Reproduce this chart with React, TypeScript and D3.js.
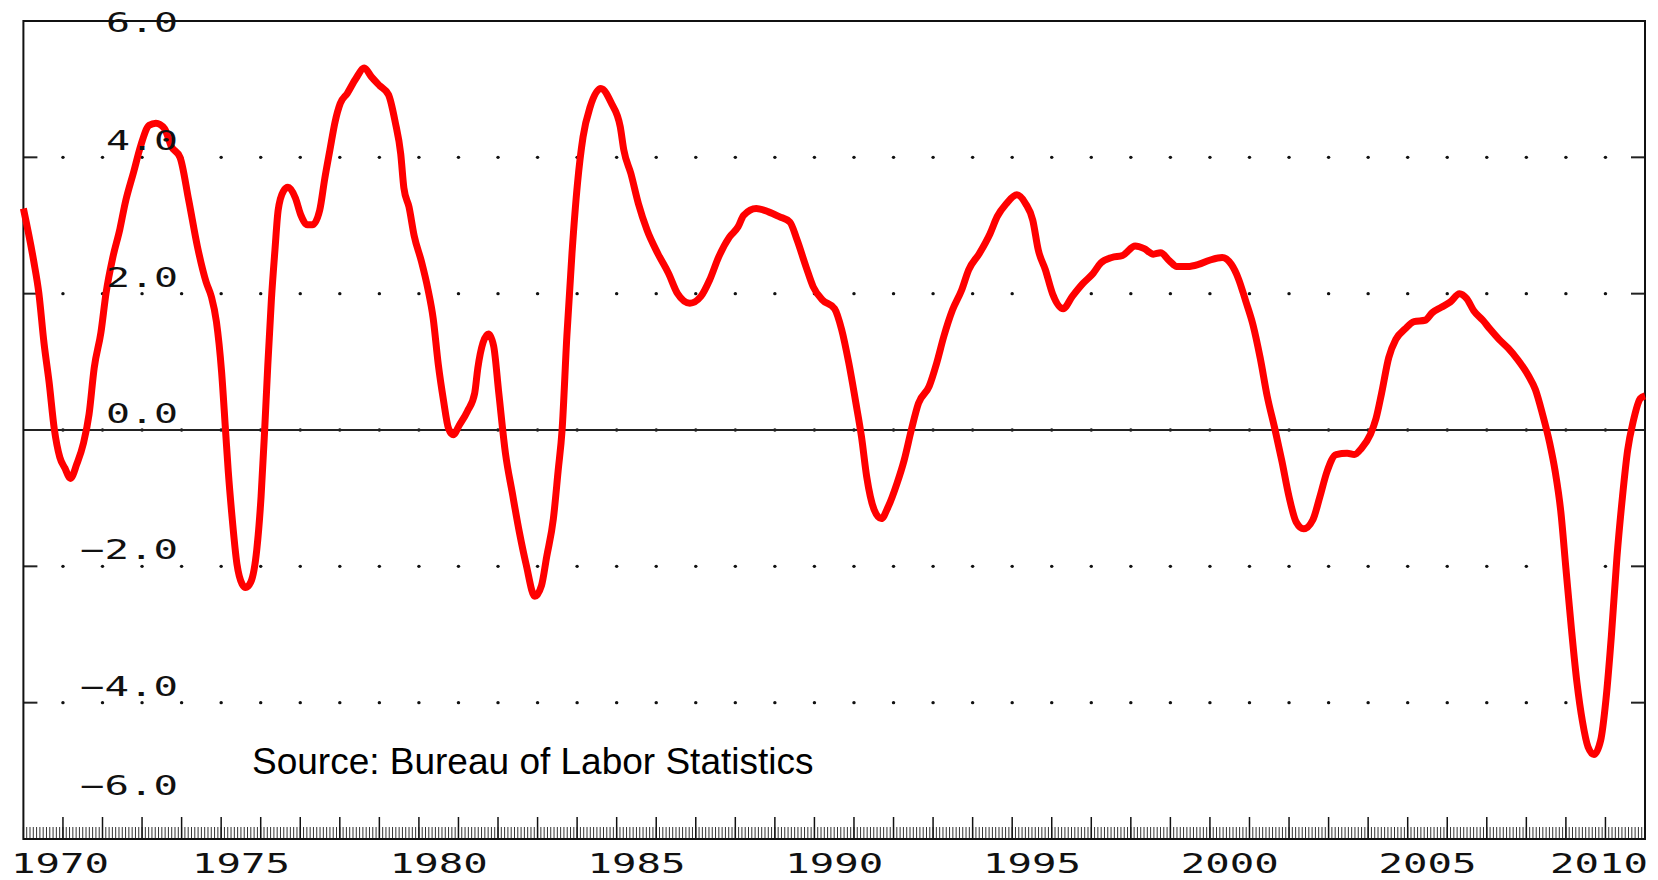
import React, { useRef, useEffect } from "react";
import * as d3 from "d3";

// payroll employment, % change from a year earlier
const dates = [
  1970.0, 1970.26, 1970.39, 1970.52, 1970.65, 1970.78, 1970.92, 1971.05, 1971.19, 1971.35,
  1971.52, 1971.66, 1971.79, 1971.96, 1972.09, 1972.26, 1972.44, 1972.57, 1972.79, 1972.96,
  1973.18, 1973.35, 1973.57, 1973.74, 1973.96, 1974.18, 1974.4, 1974.62, 1974.75, 1974.88,
  1975.01, 1975.11, 1975.18, 1975.27, 1975.4, 1975.53, 1975.62, 1975.75, 1975.9, 1976.01,
  1976.1, 1976.18, 1976.27, 1976.36, 1976.44, 1976.57, 1976.69, 1976.88, 1977.01, 1977.18,
  1977.31, 1977.49, 1977.62, 1977.75, 1977.88, 1978.01, 1978.19, 1978.4, 1978.62, 1978.8,
  1979.01, 1979.23, 1979.4, 1979.54, 1979.62, 1979.75, 1979.88, 1980.06, 1980.23, 1980.36,
  1980.49, 1980.62, 1980.75, 1980.87, 1981.02, 1981.23, 1981.41, 1981.49, 1981.62, 1981.76,
  1981.89, 1982.02, 1982.19, 1982.36, 1982.54, 1982.71, 1982.93, 1983.1, 1983.23, 1983.4,
  1983.52, 1983.62, 1983.74, 1983.87, 1984.01, 1984.15, 1984.33, 1984.6, 1984.87, 1985.09,
  1985.18, 1985.36, 1985.55, 1985.77, 1986.04, 1986.31, 1986.54, 1986.85, 1987.13, 1987.35,
  1987.58, 1987.85, 1988.07, 1988.21, 1988.53, 1988.84, 1989.11, 1989.38, 1989.56, 1989.79,
  1989.97, 1990.2, 1990.51, 1990.69, 1990.87, 1991.05, 1991.19, 1991.32, 1991.51, 1991.69,
  1991.87, 1992.09, 1992.27, 1992.45, 1992.63, 1992.9, 1993.09, 1993.27, 1993.49, 1993.72,
  1993.9, 1994.17, 1994.44, 1994.62, 1994.85, 1995.12, 1995.34, 1995.52, 1995.66, 1995.84,
  1996.02, 1996.29, 1996.52, 1996.79, 1997.05, 1997.24, 1997.52, 1997.79, 1998.11, 1998.34,
  1998.57, 1998.75, 1998.98, 1999.16, 1999.44, 1999.71, 1999.99, 2000.31, 2000.54, 2000.72,
  2000.9, 2001.09, 2001.27, 2001.45, 2001.64, 2001.82, 2002.0, 2002.18, 2002.37, 2002.6,
  2002.78, 2002.96, 2003.19, 2003.47, 2003.65, 2003.83, 2004.06, 2004.2, 2004.34, 2004.52,
  2004.7, 2004.93, 2005.16, 2005.44, 2005.62, 2005.85, 2006.08, 2006.31, 2006.49, 2006.67,
  2006.9, 2007.08, 2007.31, 2007.54, 2007.77, 2008.05, 2008.23, 2008.41, 2008.59, 2008.73,
  2008.87, 2009.0, 2009.14, 2009.28, 2009.42, 2009.56, 2009.71, 2009.88, 2010.01, 2010.15,
  2010.29, 2010.43, 2010.56, 2010.7, 2010.88, 2011.0,
];
const growth = [
  3.25, 2.48, 2.01, 1.28, 0.7, 0.02, -0.4, -0.56, -0.71, -0.5,
  -0.19, 0.23, 0.91, 1.43, 2.01, 2.53, 2.95, 3.32, 3.79, 4.16,
  4.47, 4.5, 4.42, 4.16, 4.0, 3.37, 2.69, 2.17, 1.96, 1.59,
  0.86, 0.0, -0.61, -1.24, -1.97, -2.26, -2.31, -2.23, -1.76, -0.97,
  0.0, 0.96, 1.91, 2.64, 3.22, 3.5, 3.56, 3.4, 3.16, 3.01,
  3.01, 3.22, 3.69, 4.11, 4.52, 4.79, 4.94, 5.15, 5.31, 5.18,
  5.05, 4.92, 4.52, 4.05, 3.55, 3.27, 2.85, 2.48, 2.06, 1.64,
  0.96, 0.44, 0.02, -0.07, 0.07, 0.28, 0.54, 0.91, 1.28, 1.41,
  1.23, 0.54, -0.35, -0.92, -1.5, -1.97, -2.44, -2.28, -1.86, -1.3,
  -0.6, 0.0, 1.37, 2.59, 3.62, 4.3, 4.74, 5.01, 4.79, 4.45,
  4.11, 3.76, 3.32, 2.93, 2.59, 2.3, 2.0, 1.86, 1.96, 2.2,
  2.54, 2.83, 2.98, 3.15, 3.25, 3.2, 3.13, 3.05, 2.79, 2.39,
  2.1, 1.91, 1.78, 1.47, 0.98, 0.39, -0.1, -0.68, -1.17, -1.3,
  -1.12, -0.78, -0.44, 0.0, 0.39, 0.64, 0.98, 1.37, 1.76, 2.05,
  2.35, 2.59, 2.88, 3.13, 3.32, 3.45, 3.32, 3.08, 2.64, 2.35,
  2.0, 1.78, 1.96, 2.15, 2.3, 2.45, 2.53, 2.56, 2.7, 2.66,
  2.58, 2.6, 2.48, 2.4, 2.4, 2.43, 2.49, 2.53, 2.43, 2.22,
  1.9, 1.54, 1.06, 0.49, 0.02, -0.46, -0.98, -1.35, -1.45, -1.32,
  -0.98, -0.61, -0.36, -0.34, -0.36, -0.27, -0.06, 0.17, 0.54, 1.06,
  1.33, 1.48, 1.59, 1.61, 1.72, 1.8, 1.88, 2.0, 1.93, 1.75,
  1.61, 1.48, 1.33, 1.2, 1.04, 0.8, 0.59, 0.23, -0.19, -0.61,
  -1.19, -2.03, -2.92, -3.71, -4.28, -4.65, -4.76, -4.55, -3.97, -3.02,
  -1.87, -0.98, -0.3, 0.12, 0.46, 0.5,
];

const yTicks = [-6, -4, -2, 0, 2, 4, 6];
const yTickLabels = ["-6.0", "-4.0", "-2.0", "0.0", "2.0", "4.0", "6.0"];
const yearLabels = [1970, 1975, 1980, 1985, 1990, 1995, 2000, 2005, 2010];
const sourceNote = "Source: Bureau of Labor Statistics";

const W = 1658;
const H = 880;
const monoFont = "'DejaVu Sans Mono', monospace";

const App = () => {
  const svgRef = useRef(null);

  useEffect(() => {
    const svg = d3.select(svgRef.current);
    svg.selectAll("*").remove();

    const x = d3.scaleLinear().domain([1970, 2011]).range([23.4, 1645]);
    const y = d3.scaleLinear().domain([-6, 6]).range([839, 21]);
    const [x0, x1] = x.range();
    const [yb, yt] = y.range();

    // dotted grid at each year boundary
    const years = d3.range(1971, 2011);
    const gridVals = yTicks.filter((v) => Math.abs(v) < 6);
    const dots = svg.append("g").attr("class", "grid-dots");
    gridVals.forEach((v) => {
      dots
        .selectAll(null)
        .data(years)
        .enter()
        .append("circle")
        .attr("cx", (d) => x(d))
        .attr("cy", y(v))
        .attr("r", 1.7)
        .attr("fill", "#111");
    });

    // zero line
    svg
      .append("line")
      .attr("x1", x0)
      .attr("x2", x1)
      .attr("y1", y(0))
      .attr("y2", y(0))
      .attr("stroke", "#222")
      .attr("stroke-width", 2);

    // y ticks on both sides
    const yTickG = svg.append("g").attr("class", "y-ticks");
    gridVals.forEach((v) => {
      yTickG.append("line").attr("x1", x0).attr("x2", x0 + 14).attr("y1", y(v)).attr("y2", y(v))
        .attr("stroke", "#222").attr("stroke-width", 2);
      yTickG.append("line").attr("x1", x1 - 14).attr("x2", x1).attr("y1", y(v)).attr("y2", y(v))
        .attr("stroke", "#222").attr("stroke-width", 2);
    });

    // monthly minor ticks and yearly major ticks on the bottom axis
    const months = d3.range(0, 41 * 12).map((m) => 1970 + m / 12);
    svg
      .append("g")
      .selectAll("line")
      .data(months)
      .enter()
      .append("line")
      .attr("x1", (d) => x(d))
      .attr("x2", (d) => x(d))
      .attr("y1", yb - 12)
      .attr("y2", yb)
      .attr("stroke", "#333")
      .attr("stroke-width", 1);
    svg
      .append("g")
      .selectAll("line")
      .data(years)
      .enter()
      .append("line")
      .attr("x1", (d) => x(d))
      .attr("x2", (d) => x(d))
      .attr("y1", yb - 22)
      .attr("y2", yb)
      .attr("stroke", "#111")
      .attr("stroke-width", 1.5);

    // frame
    svg
      .append("rect")
      .attr("x", x0)
      .attr("y", yt)
      .attr("width", x1 - x0)
      .attr("height", yb - yt)
      .attr("fill", "none")
      .attr("stroke", "#111")
      .attr("stroke-width", 2);

    // the series
    const line = d3
      .line<number>()
      .x((_, i) => x(dates[i]))
      .y((d) => y(d))
      .curve(d3.curveMonotoneX);
    svg
      .append("path")
      .datum(growth)
      .attr("d", line)
      .attr("fill", "none")
      .attr("stroke", "#ff0000")
      .attr("stroke-width", 7)
      .attr("stroke-linejoin", "round")
      .attr("stroke-linecap", "butt");

    // y labels (stretched mono font, drawn above each gridline)
    yTicks.forEach((v, i) => {
      const label = yTickLabels[i];
      const len = label.length === 3 ? 72 : 98;
      let base = y(v) - 7;
      if (v === 6) base = y(v) + 11;
      if (v === -6) base = y(v) - 44;
      svg
        .append("text")
        .attr("x", 178 - len)
        .attr("y", base)
        .attr("textLength", len)
        .attr("lengthAdjust", "spacingAndGlyphs")
        .attr("font-family", monoFont)
        .attr("font-size", 27)
        .attr("fill", "#111")
        .text(label.replace("-", "\u2212"));
    });

    // year labels, centred in their year, kept inside the picture
    yearLabels.forEach((yr) => {
      const len = 98;
      let left = x(yr + 0.5) - len / 2;
      left = Math.max(11, Math.min(W - 10 - len, left));
      svg
        .append("text")
        .attr("x", left)
        .attr("y", 873)
        .attr("textLength", len)
        .attr("lengthAdjust", "spacingAndGlyphs")
        .attr("font-family", monoFont)
        .attr("font-size", 27)
        .attr("fill", "#111")
        .text(String(yr));
    });

    svg
      .append("text")
      .attr("x", 252)
      .attr("y", 774)
      .attr("font-family", "'Liberation Sans', Arial, sans-serif")
      .attr("font-size", 37)
      .attr("fill", "#000")
      .text(sourceNote);
  }, []);

  return (
    <div style={{ position: "absolute", left: 0, top: 0 }}>
      <svg ref={svgRef} width={W} height={H} style={{ display: "block", background: "#fff" }}></svg>
    </div>
  );
};

export default App;
